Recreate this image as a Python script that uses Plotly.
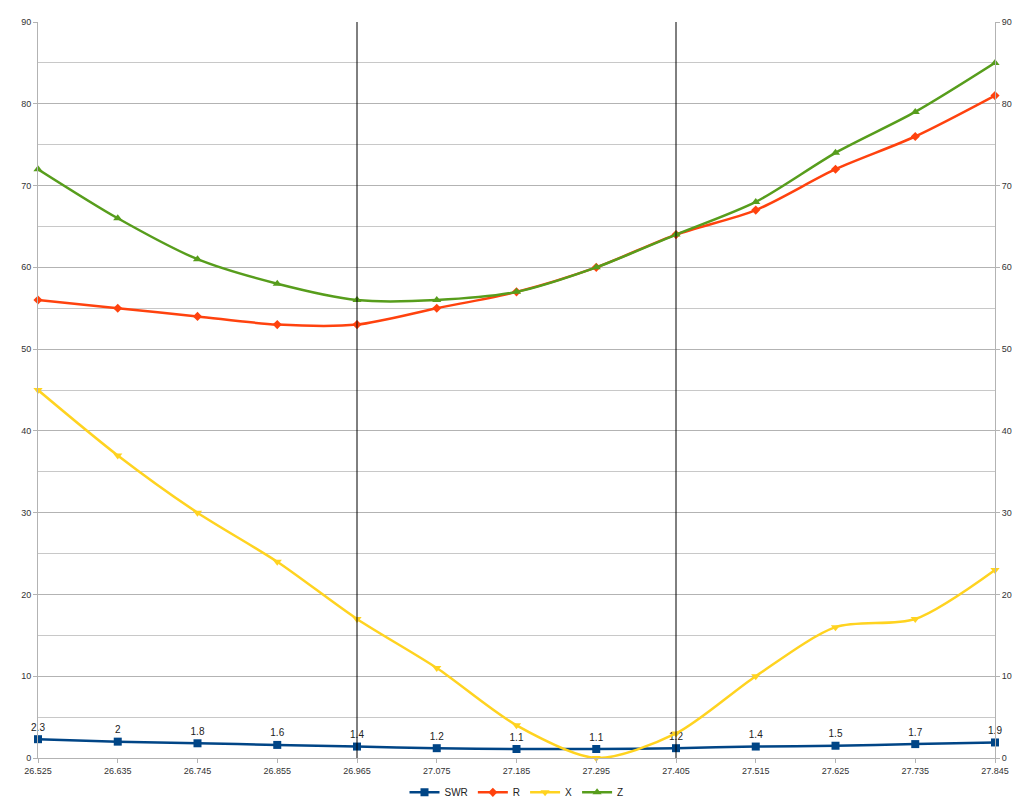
import plotly.graph_objects as go

freqs = ["26.525", "26.635", "26.745", "26.855", "26.965", "27.075", "27.185",
         "27.295", "27.405", "27.515", "27.625", "27.735", "27.845"]
swr = [2.3, 2, 1.8, 1.6, 1.4, 1.2, 1.1, 1.1, 1.2, 1.4, 1.5, 1.7, 1.9]
r_vals = [56, 55, 54, 53, 53, 55, 57, 60, 64, 67, 72, 76, 81]
x_vals = [45, 37, 30, 24, 17, 11, 4, 0, 3, 10, 16, 17, 23]
z_vals = [72, 66, 61, 58, 56, 56, 57, 60, 64, 68, 74, 79, 85]
marker_lines = ["26.965", "27.405"]

fig = go.Figure()

def add(name, y, color, symbol, size, text=None):
    fig.add_trace(go.Scatter(
        x=freqs, y=y, name=name, mode="lines+markers+text" if text else "lines+markers",
        line=dict(color=color, width=2.5, shape="spline", smoothing=0.8),
        marker=dict(symbol=symbol, size=size, color=color),
        text=text, textposition="top center",
        textfont=dict(size=10, color="#222", family="Liberation Sans"),
        cliponaxis=False,
    ))

add("SWR", swr, "#004586", "square", 8, [str(v) for v in swr])
add("R", r_vals, "#ff420e", "diamond", 7)
add("X", x_vals, "#ffd320", "triangle-down", 8)
add("Z", z_vals, "#579d1c", "triangle-up", 8)

# invisible trace to activate secondary axis
fig.add_trace(go.Scatter(x=freqs, y=z_vals, yaxis="y2", showlegend=False,
                         mode="lines", line=dict(width=0), hoverinfo="skip", opacity=0))

for xv in marker_lines:
    idx = freqs.index(xv)
    fig.add_shape(type="line", xref="x", yref="paper", x0=idx, x1=idx, y0=0, y1=1,
                  line=dict(color="black", width=1), layer="above")

axis_font = dict(size=9, color="#333", family="Liberation Sans")
fig.update_layout(
    width=1016, height=800,
    margin=dict(l=30, r=29, t=14, b=50, autoexpand=False),
    plot_bgcolor="white", paper_bgcolor="white",
    showlegend=True,
    legend=dict(orientation="h", x=0.5, xanchor="center", y=-0.027, yanchor="top",
                font=dict(size=10, color="#222", family="Liberation Sans"),
                itemwidth=30, tracegroupgap=0, itemsizing="trace"),
    xaxis=dict(type="category", range=[0, 12], showgrid=False, showline=True, automargin=False,
               linecolor="#b3b3b3", ticks="outside", ticklen=4, tickcolor="#b3b3b3",
               tickfont=axis_font, zeroline=False),
    yaxis=dict(range=[0, 90], dtick=10, showgrid=True, gridcolor="#b3b3b3", automargin=False,
               minor=dict(dtick=5, showgrid=True, gridcolor="#c8c8c8"),
               showline=True, linecolor="#b3b3b3", ticks="outside", ticklen=4,
               tickcolor="#b3b3b3", tickfont=axis_font, zeroline=False),
    yaxis2=dict(range=[0, 90], dtick=10, overlaying="y", side="right", showgrid=False,
                automargin=False,
                showline=True, linecolor="#b3b3b3", ticks="outside", ticklen=4,
                tickcolor="#b3b3b3", tickfont=axis_font, zeroline=False),
)

fig.write_html("out.html")
